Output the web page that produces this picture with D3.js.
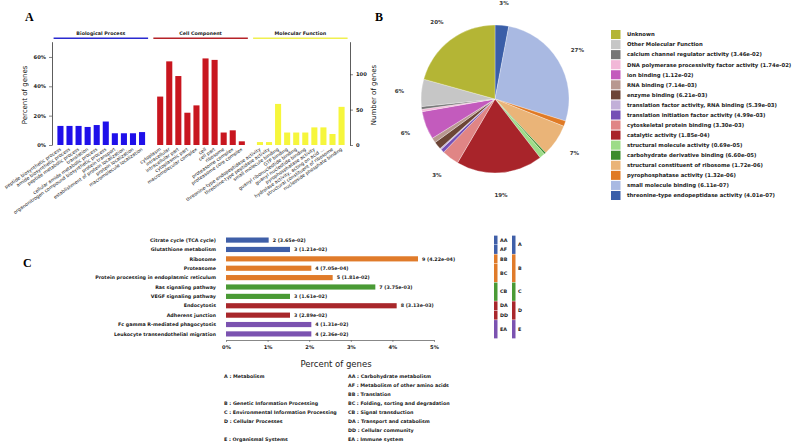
<!DOCTYPE html>
<html>
<head>
<meta charset="utf-8">
<script src="https://cdn.jsdelivr.net/npm/d3@7"></script>
<style>
  body { margin: 0; background: #fff; }
  svg { display: block; font-family: "DejaVu Sans", sans-serif; }
  .lbl { font-size: 4.8px; font-weight: bold; fill: #1a1a1a; }
  .panel { font-family: "Liberation Serif", serif; font-weight: bold; font-size: 12px; }
</style>
</head>
<body>
<div id="fig"></div>
<script>
// ---- panel A : GO terms ----
const bpTerms = ["peptide biosynthetic process", "amide biosynthetic process", "peptide metabolic process", "translation",
  "cellular amide metabolic process", "organonitrogen compound biosynthetic process", "protein transport",
  "establishment of protein localization", "protein localization", "macromolecule localization"];
const bpPct = [13, 13, 13, 12.3, 13.6, 16, 8, 8, 8, 8.8];
const ccTerms = ["cytoplasm", "intracellular", "intracellular part", "cytoplasmic part", "macromolecular complex",
  "cell", "cell part", "ribosome", "proteasome complex", "proteasome core complex"];
const ccPct = [33, 57, 47, 22, 27, 59, 58, 8.5, 10, 2.5];
const mfTerms = ["threonine-type endopeptidase activity", "threonine-type peptidase activity", "small molecule binding",
  "GTP binding", "guanyl ribonucleotide binding", "guanyl nucleotide binding", "pyrophosphatase activity",
  "hydrolase activity, acting on acid ...", "structural constituent of ribosome", "nucleoside phosphate binding"];
const mfPct = [2, 2, 28, 8.5, 8.5, 8.5, 12, 12, 7.5, 26];
const goGroups = ["Biological Process", "Cell Component", "Molecular Function"];
const goColors = ["#1f10ea", "#c8161f", "#f6f63c"];
const goLineColors = ["#2a2ad0", "#b52228", "#f0f050"];

// ---- panel B : molecular function pie ----
const pieNames = ["Unknown", "Other Molecular Function", "calcium channel regulator activity (3.46e-02)",
  "DNA polymerase processivity factor activity (1.74e-02)", "ion binding (1.12e-02)", "RNA binding (7.14e-03)",
  "enzyme binding (6.21e-03)", "translation factor activity, RNA binding (5.39e-03)",
  "translation initiation factor activity (4.99e-03)", "cytoskeletal protein binding (3.30e-03)",
  "catalytic activity (1.85e-04)", "structural molecule activity (0.69e-05)", "carbohydrate derivative binding (6.60e-05)",
  "structural constituent of ribosome (1.72e-06)", "pyrophosphatase activity (1.32e-06)",
  "small molecule binding (6.11e-07)", "threonine-type endopeptidase activity (4.01e-07)"];
const piePct = [20.8, 6, 0.6, 0.5, 6.2, 1.1, 1.7, 0.3, 0.8, 3.8, 19, 1.2, 0.4, 7, 1.2, 27, 3];
const pieLabels = ["20%", "6%", "", "", "6%", "", "", "", "", "3%", "19%", "", "", "7%", "", "27%", "3%"];
const pieColors = ["#b4b535", "#c6c6c6", "#777777", "#f2b8d8", "#c35bbd", "#b89890", "#6c4536", "#c2b0d8",
  "#7550b5", "#e08585", "#a8242a", "#9ddc88", "#3c8c2c", "#eab478", "#e07a25", "#a9b9e2", "#3a5ea8"];

// ---- panel C : KEGG pathways ----
const pathways = ["Citrate cycle (TCA cycle)", "Glutathione metabolism", "Ribosome", "Proteasome",
  "Protein processing in endoplasmic reticulum", "Ras signaling pathway", "VEGF signaling pathway", "Endocytosis",
  "Adherens junction", "Fc gamma R-mediated phagocytosis", "Leukocyte transendothelial migration"];
const pathGenes = [2, 3, 9, 4, 5, 7, 3, 8, 3, 4, 4];
const pathP = ["3.65e-02", "1.21e-02", "4.22e-04", "7.05e-04", "1.81e-02", "3.75e-03", "1.61e-02", "3.13e-03",
  "2.89e-02", "1.31e-02", "2.36e-02"];
const pathSub = ["AA", "AF", "BB", "BC", "BC", "CB", "CB", "DA", "DD", "EA", "EA"];
const pathMain = ["A", "A", "B", "B", "B", "C", "C", "D", "D", "E", "E"];
const totalGenes = 195;
const percentTicks = [0, 1, 2, 3, 4, 5];
const mainCats = ["A", "B", "C", "D", "E"];
const mainColors = ["#3f5fa8", "#e07b2a", "#4a9a35", "#a8272b", "#7b52b0"];
const mainNames = ["A : Metabolism", "B : Genetic Information Processing", "C : Environmental Information Processing",
  "D : Cellular Processes", "E : Organismal Systems"];
const subNames = ["AA : Carbohydrate metabolism", "AF : Metabolism of other amino acids", "BB : Translation",
  "BC : Folding, sorting and degradation", "CB : Signal transduction", "DA : Transport and catabolism",
  "DD : Cellular community", "EA : Immune system"];

const W = 793, H = 445;
const svg = d3.select('#fig').append('svg').attr('width', W).attr('height', H);

// ================= A =================
svg.append('text').attr('class', 'panel').attr('x', 25).attr('y', 21).text('A');

const goRows = [];
[bpTerms, ccTerms, mfTerms].forEach((terms, g) => {
  const vals = [bpPct, ccPct, mfPct][g];
  terms.forEach((t, i) => goRows.push({key: g + '-' + i, term: t, pct: vals[i], g: g}));
  if (g < 2) goRows.push({key: 'gap' + g, gap: true});
});

const xA = d3.scaleBand().domain(goRows.map(d => d.key)).range([53.5, 348.5])
  .paddingInner(0.33).paddingOuter(0.43);
const yA = d3.scaleLinear().domain([0, 70.4]).range([145, 41.7]);
const yN = d3.scaleLinear().domain([0, 146]).range([145, 41.7]);

const gA = svg.append('g');
gA.selectAll('rect').data(goRows.filter(d => !d.gap)).join('rect')
  .attr('x', d => xA(d.key)).attr('width', xA.bandwidth())
  .attr('y', d => yA(d.pct)).attr('height', d => yA(0) - yA(d.pct))
  .attr('fill', d => goColors[d.g]);

gA.selectAll('text.term').data(goRows.filter(d => !d.gap)).join('text')
  .attr('class', 'term')
  .attr('font-size', 4.7).attr('fill', '#1a1a1a')
  .attr('text-anchor', 'end')
  .attr('transform', d => `translate(${xA(d.key) + xA.bandwidth() / 2 + 1},150) rotate(-35)`)
  .text(d => d.term);

goGroups.forEach((name, g) => {
  const x0 = xA(g + '-0') - 3.8, x1 = xA(g + '-9') + xA.bandwidth() + 3;
  gA.append('line').attr('x1', x0).attr('x2', x1).attr('y1', 38.3).attr('y2', 38.3)
    .attr('stroke', goLineColors[g]).attr('stroke-width', 1.6);
  gA.append('text').attr('class', 'lbl').attr('x', (x0 + x1) / 2).attr('y', 35)
    .attr('text-anchor', 'middle').text(name);
});

const axL = gA.append('g').attr('transform', 'translate(52,0)')
  .call(d3.axisLeft(yA).tickValues([0, 20, 40, 60]).tickFormat(d => d + '%').tickSize(3).tickSizeOuter(0));
const axR = gA.append('g').attr('transform', 'translate(350,0)')
  .call(d3.axisRight(yN).tickValues([0, 50, 100]).tickSize(3).tickSizeOuter(0));
[axL, axR].forEach(a => {
  a.selectAll('text').attr('font-size', 5.2).attr('font-weight', 'bold').attr('fill', '#1a1a1a')
    .attr('font-family', 'DejaVu Sans');
  a.select('.domain').attr('stroke', '#333').attr('stroke-width', 0.8);
  a.selectAll('line').attr('stroke', '#333').attr('stroke-width', 0.6);
});
gA.append('text').attr('transform', 'translate(27,95) rotate(-90)').attr('text-anchor', 'middle')
  .attr('font-size', 7).attr('fill', '#111').text('Percent of genes');
gA.append('text').attr('transform', 'translate(376,95) rotate(-90)').attr('text-anchor', 'middle')
  .attr('font-size', 7).attr('fill', '#111').text('Number of genes');

// ================= B =================
svg.append('text').attr('class', 'panel').attr('x', 375).attr('y', 21).text('B');

const pieData = pieNames.map((n, i) => ({name: n, pct: piePct[i], label: pieLabels[i], color: pieColors[i]}));
// drawn clockwise from 12 o'clock, last legend entry first
const pie = d3.pie().sort(null).value(d => d.pct);
const arcs = pie(pieData.slice().reverse());
const R = 74;
const arc = d3.arc().innerRadius(0).outerRadius(R);
const lblArc = d3.arc().innerRadius(96).outerRadius(96);
const gB = svg.append('g').attr('transform', 'translate(495,99)');
gB.selectAll('path').data(arcs).join('path')
  .attr('d', arc).attr('fill', d => d.data.color)
  .attr('stroke', '#fff').attr('stroke-width', 0.3);
gB.selectAll('text').data(arcs.filter(d => d.data.label)).join('text')
  .attr('transform', d => `translate(${lblArc.centroid(d)})`)
  .attr('text-anchor', 'middle').attr('dy', '0.35em')
  .attr('font-size', 5.5).attr('font-weight', 'bold').attr('fill', '#333')
  .text(d => d.data.label);

const legB = svg.append('g');
const yLeg = d3.scaleBand().domain(pieNames).range([30, 200]).paddingInner(0.1);
legB.selectAll('rect').data(pieData).join('rect')
  .attr('x', 611).attr('y', d => yLeg(d.name)).attr('width', 9.5).attr('height', yLeg.bandwidth())
  .attr('fill', d => d.color);
legB.selectAll('text').data(pieData).join('text')
  .attr('x', 627).attr('y', d => yLeg(d.name) + yLeg.bandwidth() / 2).attr('dy', '0.35em')
  .attr('font-size', 5.3).attr('font-weight', 'bold').attr('fill', '#1a1a1a').text(d => d.name);

// ================= C =================
svg.append('text').attr('class', 'panel').attr('x', 23).attr('y', 267).text('C');

const xC = d3.scaleLinear().domain([0, 5]).range([226, 434]);
const yC = d3.scaleBand().domain(pathways).range([237.5, 336.5]).paddingInner(0.45);
const catColor = d3.scaleOrdinal().domain(mainCats).range(mainColors);
const gC = svg.append('g');
const pathRows = pathways.map((p, i) => ({name: p, genes: pathGenes[i], p: pathP[i], sub: pathSub[i], main: pathMain[i]}));

gC.selectAll('rect.bar').data(pathRows).join('rect').attr('class', 'bar')
  .attr('x', xC(0)).attr('y', d => yC(d.name))
  .attr('width', d => xC(d.genes / totalGenes * 100) - xC(0)).attr('height', yC.bandwidth())
  .attr('fill', d => catColor(d.main));
gC.selectAll('text.val').data(pathRows).join('text').attr('class', 'lbl val')
  .attr('x', d => xC(d.genes / totalGenes * 100) + 4).attr('y', d => yC(d.name) + yC.bandwidth() / 2)
  .attr('dy', '0.35em').text(d => `${d.genes} (${d.p})`);
gC.selectAll('text.path').data(pathRows).join('text').attr('class', 'lbl path')
  .attr('x', 216).attr('y', d => yC(d.name) + yC.bandwidth() / 2).attr('dy', '0.35em')
  .attr('text-anchor', 'end').text(d => d.name);

const axC = gC.append('g').attr('transform', 'translate(0,340)')
  .call(d3.axisBottom(xC).tickValues(percentTicks).tickFormat(d => d + '%').tickSize(2).tickSizeOuter(0));
axC.selectAll('text').attr('font-size', 5.2).attr('font-weight', 'bold').attr('fill', '#1a1a1a')
  .attr('font-family', 'DejaVu Sans');
axC.select('.domain').attr('stroke', '#555').attr('stroke-width', 0.7);
axC.selectAll('line').attr('stroke', '#555').attr('stroke-width', 0.6);
gC.append('text').attr('x', 336).attr('y', 367).attr('text-anchor', 'middle')
  .attr('font-size', 8.5).attr('fill', '#222').text('Percent of genes');

// category bracket boxes on the right
function groupSpans(keys) {
  const spans = [];
  keys.forEach((k, i) => {
    const last = spans[spans.length - 1];
    if (last && last.key === k) last.end = i; else spans.push({key: k, start: i, end: i});
  });
  return spans;
}
const step = yC.step();
const spanY0 = s => yC(pathways[s.start]) - step * 0.2;
const spanY1 = s => yC(pathways[s.end]) + yC.bandwidth() + step * 0.2;
const subSpans = groupSpans(pathSub).map(s => Object.assign(s, {main: s.key[0]}));
const mainSpans = groupSpans(pathMain).map(s => Object.assign(s, {main: s.key}));
[[subSpans, 494], [mainSpans, 512]].forEach(([spans, x]) => {
  gC.selectAll(null).data(spans).join('rect')
    .attr('x', x).attr('width', 3.5).attr('y', spanY0).attr('height', s => spanY1(s) - spanY0(s))
    .attr('fill', s => catColor(s.main));
  gC.selectAll(null).data(spans).join('text').attr('class', 'lbl')
    .attr('x', x + 6).attr('y', s => (spanY0(s) + spanY1(s)) / 2).attr('dy', '0.35em')
    .text(s => s.key);
});

// key text under panel C
const mainY = [376, 403, 412, 421, 439];
const subY = [376, 385, 394, 403, 412, 421, 430, 439];
gC.selectAll(null).data(mainNames).join('text').attr('class', 'lbl')
  .attr('x', 224).attr('y', (d, i) => mainY[i]).attr('dy', '0.35em').text(d => d);
gC.selectAll(null).data(subNames).join('text').attr('class', 'lbl')
  .attr('x', 348).attr('y', (d, i) => subY[i]).attr('dy', '0.35em').text(d => d);
</script>
</body>
</html>
